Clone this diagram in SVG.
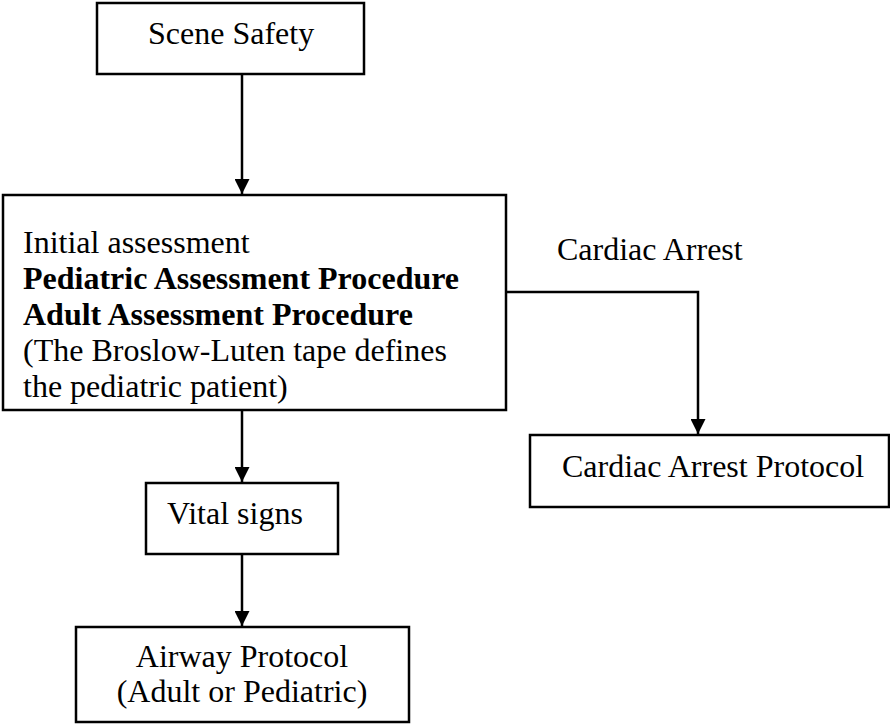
<svg xmlns="http://www.w3.org/2000/svg" width="890" height="724" viewBox="0 0 890 724">
  <style>
    .box { fill: #ffffff; stroke: #000000; stroke-width: 2.5; }
    .wire { fill: none; stroke: #000000; stroke-width: 2.5; }
    text { font-family: "Liberation Serif", "Times New Roman", serif; font-size: 32px; fill: #000000; }
    .b { font-weight: bold; }
  </style>
  <defs>
    <marker id="head" viewBox="0 0 10 10" refX="10" refY="5" markerWidth="6" markerHeight="6" markerUnits="strokeWidth" orient="auto">
      <path d="M0,0 L10,5 L0,10 Z" fill="#000000"/>
    </marker>
  </defs>
  <rect width="890" height="724" fill="#ffffff"/>

  <g id="connectors">
    <line class="wire" x1="242" y1="74" x2="242" y2="194" marker-end="url(#head)"/>
    <polyline class="wire" points="506,292 698,292 698,434" marker-end="url(#head)"/>
    <line class="wire" x1="242" y1="410" x2="242" y2="482" marker-end="url(#head)"/>
    <line class="wire" x1="242" y1="554" x2="242" y2="626" marker-end="url(#head)"/>
  </g>

  <g id="scene-safety">
    <rect class="box" x="97" y="3" width="267" height="71"/>
    <text x="148" y="44">Scene Safety</text>
  </g>

  <g id="initial-assessment">
    <rect class="box" x="3" y="195" width="503" height="215"/>
    <text x="23" y="253">Initial assessment</text>
    <text class="b" x="23" y="289">Pediatric Assessment Procedure</text>
    <text class="b" x="23" y="325">Adult Assessment Procedure</text>
    <text x="23" y="361">(The Broslow-Luten tape defines</text>
    <text x="23" y="397">the pediatric patient)</text>
  </g>

  <g id="cardiac-arrest-label">
    <text x="557" y="260">Cardiac Arrest</text>
  </g>

  <g id="cardiac-arrest-protocol">
    <rect class="box" x="530" y="435" width="359" height="72"/>
    <text x="562" y="477">Cardiac Arrest Protocol</text>
  </g>

  <g id="vital-signs">
    <rect class="box" x="146" y="483" width="192" height="71"/>
    <text x="167" y="524">Vital signs</text>
  </g>

  <g id="airway-protocol">
    <rect class="box" x="76" y="627" width="333" height="95"/>
    <text x="242" y="667" text-anchor="middle">Airway Protocol</text>
    <text x="242" y="702" text-anchor="middle">(Adult or Pediatric)</text>
  </g>
</svg>
